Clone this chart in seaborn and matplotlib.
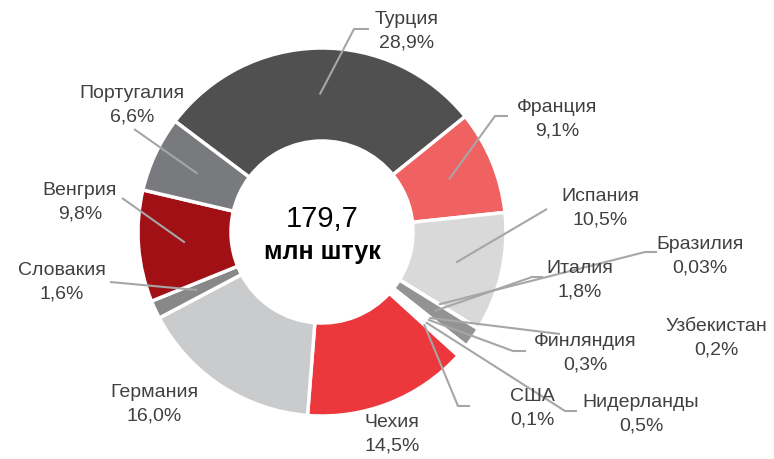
import numpy as np
import matplotlib
matplotlib.use('Agg')
import matplotlib.pyplot as plt
import seaborn as sns

# --- data (clockwise from Turkey) ---
countries = ['Турция', 'Франция', 'Испания', 'Бразилия', 'Италия', 'Узбекистан',
             'Финляндия', 'Нидерланды', 'США', 'Чехия', 'Германия', 'Словакия',
             'Венгрия', 'Португалия']
shares = [28.9, 9.1, 10.5, 0.03, 1.8, 0.2, 0.3, 0.5, 0.1, 14.5, 16.0, 1.6, 9.8, 6.6]
share_labels = ['28,9%', '9,1%', '10,5%', '0,03%', '1,8%', '0,2%', '0,3%', '0,5%',
                '0,1%', '14,5%', '16,0%', '1,6%', '9,8%', '6,6%']
total_label = '179,7'
unit_label = 'млн штук'

colors = ['#505050', '#F06262', '#D9D9D9', '#FFFFFF', '#939393', '#FFFFFF',
          '#FFFFFF', '#FFFFFF', '#FFFFFF', '#EC383C', '#CACBCD', '#888888',
          '#A11015', '#787A7D']

# --- layout (pixel coords, y from top) ---
W, H = 774, 460
CX, CY, R_OUT, R_IN = 322, 233, 184, 91
START = 143  # degrees, math convention

label_pos = {
    'Турция': (407, 31), 'Португалия': (132, 105), 'Франция': (557, 119),
    'Испания': (600, 208), 'Бразилия': (700, 256), 'Италия': (580, 280),
    'Узбекистан': (716, 338), 'Финляндия': (585, 353), 'США': (532, 408),
    'Нидерланды': (641, 414), 'Чехия': (392, 434), 'Германия': (154, 404),
    'Словакия': (62, 282), 'Венгрия': (80, 202),
}
leaders = {
    'Турция': [(369, 30), (354, 30)],
    'Португалия': [(134, 130)],
    'Франция': [(508, 117), (495, 117)],
    'Испания': [(547, 210)],
    'Бразилия': [(657, 253), (645, 253)],
    'Италия': [(543, 278), (532, 278)],
    'Узбекистан': [(560, 335)],
    'Финляндия': [(526, 352), (513, 352)],
    'США': [(470, 407), (458, 407)],
    'Нидерланды': [(577, 412), (565, 412)],
    'Словакия': [(110, 283)],
    'Венгрия': [(122, 199)],
}

def px(x, y):
    return x, H - y

sns.set_theme(style='white')
plt.rcParams['font.family'] = ['Liberation Sans', 'DejaVu Sans']

fig = plt.figure(figsize=(W / 100, H / 100), dpi=100)
ax = fig.add_axes([0, 0, 1, 1])

wedges, _ = ax.pie(shares, colors=colors, startangle=START, counterclock=False,
                   center=px(CX, CY), radius=R_OUT, frame=True,
                   wedgeprops=dict(width=R_OUT - R_IN, edgecolor='white', linewidth=2.5))
ax.set_xlim(0, W)
ax.set_ylim(0, H)
ax.set_aspect('equal')
ax.axis('off')

# leader lines to middle of ring
r_mid = (R_OUT + R_IN) / 2
for w, name in zip(wedges, countries):
    if name not in leaders:
        continue
    mid = np.deg2rad((w.theta1 + w.theta2) / 2)
    ax_pt = (CX + r_mid * np.cos(mid), H - CY + r_mid * np.sin(mid))
    pts = [px(*p) for p in leaders[name]] + [ax_pt]
    xs, ys = zip(*pts)
    ax.plot(xs, ys, color='#A6A6A6', lw=1.5, zorder=3, solid_capstyle='butt')

for name, val in zip(countries, share_labels):
    x, y = label_pos[name]
    ax.text(*px(x, y), f'{name}\n{val}', ha='center', va='center',
            fontsize=14, color='#404040', linespacing=1.5)

ax.text(*px(CX, 219), total_label, ha='center', va='center', fontsize=21, color='black')
ax.text(*px(CX, 252), unit_label, ha='center', va='center', fontsize=18,
        fontweight='bold', color='black')

fig.savefig('out.png', dpi=100)
